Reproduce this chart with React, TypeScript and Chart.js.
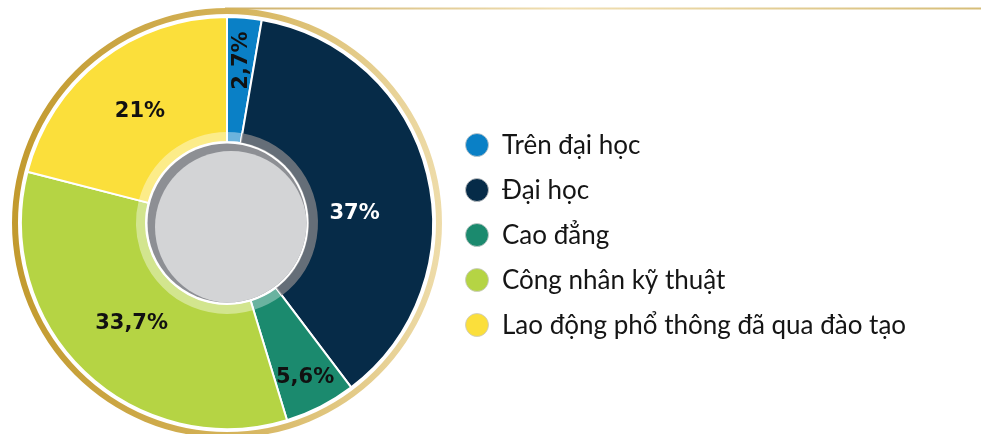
import React, { useEffect, useRef } from "react";
import { Chart, registerables } from "chart.js";

Chart.register(...registerables);

const categories = [
  "Trên đại học",
  "Đại học",
  "Cao đẳng",
  "Công nhân kỹ thuật",
  "Lao động phổ thông đã qua đào tạo",
];
const values = [2.7, 37, 5.6, 33.7, 21];
const valueLabels = ["2,7%", "37%", "5,6%", "33,7%", "21%"];
const colors = ["#0a80c6", "#062b48", "#1b8a6e", "#b5d444", "#fbdf3b"];
const labelColors = ["#111111", "#ffffff", "#111111", "#111111", "#111111"];
const labelRadius = [163, 128, 172, 138, 142];
const labelAngleShift = [0, 9, 0, 0, 0];
const labelRotation = [-90, 0, 0, 0, 0];
const ringOverlay = [
  "rgba(255,255,255,0.4)",
  "rgba(125,127,133,0.8)",
  "rgba(255,255,255,0.35)",
  "rgba(255,255,255,0.4)",
  "rgba(255,255,255,0.4)",
];

const decorPlugin = {
  id: "decor",
  beforeDatasetsDraw(chart: any) {
    const ctx = chart.ctx;
    const meta = chart.getDatasetMeta(0);
    const a0 = meta.data[0];
    if (!a0) return;
    const cx = a0.x, cy = a0.y;
    ctx.save();
    // top gold line
    const lg = ctx.createLinearGradient(225, 0, 981, 0);
    lg.addColorStop(0, "#cdb06a");
    lg.addColorStop(0.45, "#f0dfb3");
    lg.addColorStop(1, "#d6bd78");
    ctx.fillStyle = lg;
    ctx.fillRect(225, 7.5, 756, 2);
    // gold ring
    const rg = ctx.createLinearGradient(cx - 215, cy, cx + 215, cy);
    rg.addColorStop(0, "#c29a2e");
    rg.addColorStop(0.5, "#d4b258");
    rg.addColorStop(1, "#eedcaa");
    ctx.beginPath();
    ctx.arc(cx, cy, 215, 0, Math.PI * 2);
    ctx.arc(cx, cy, 209, 0, Math.PI * 2, true);
    ctx.fillStyle = rg;
    ctx.fill("evenodd");
    ctx.restore();
  },
  afterDatasetsDraw(chart: any) {
    const ctx = chart.ctx;
    const meta = chart.getDatasetMeta(0);
    const arcs = meta.data;
    if (!arcs.length) return;
    const cx = arcs[0].x, cy = arcs[0].y;
    ctx.save();
    // translucent inner ring
    arcs.forEach((el: any, i: number) => {
      ctx.beginPath();
      ctx.arc(cx, cy, 91, el.startAngle, el.endAngle);
      ctx.arc(cx, cy, 80, el.endAngle, el.startAngle, true);
      ctx.closePath();
      ctx.fillStyle = ringOverlay[i];
      ctx.fill();
    });
    // white circle
    ctx.beginPath();
    ctx.arc(cx, cy, 81.5, 0, Math.PI * 2);
    ctx.fillStyle = "#ffffff";
    ctx.fill();
    // gray center
    ctx.beginPath();
    ctx.arc(cx, cy, 79.5, 0, Math.PI * 2);
    ctx.fillStyle = "#8d8f94";
    ctx.fill();
    ctx.save();
    ctx.clip();
    ctx.beginPath();
    ctx.arc(cx + 4, cy + 4, 76, 0, Math.PI * 2);
    ctx.fillStyle = "#d3d4d6";
    ctx.fill();
    ctx.restore();
    // value labels
    ctx.font = "bold 21px 'DejaVu Sans'";
    ctx.textAlign = "center";
    ctx.textBaseline = "middle";
    arcs.forEach((el: any, i: number) => {
      const mid = (el.startAngle + el.endAngle) / 2 + (labelAngleShift[i] * Math.PI) / 180;
      const px = cx + Math.cos(mid) * labelRadius[i];
      const py = cy + Math.sin(mid) * labelRadius[i];
      ctx.save();
      ctx.translate(px, py);
      ctx.rotate((labelRotation[i] * Math.PI) / 180);
      ctx.fillStyle = labelColors[i];
      ctx.fillText(valueLabels[i], 0, 1);
      ctx.restore();
    });
    // legend
    ctx.font = "26px Lato";
    ctx.textAlign = "left";
    ctx.textBaseline = "middle";
    categories.forEach((c, i) => {
      const y = 145 + i * 45;
      ctx.beginPath();
      ctx.arc(477, y, 11.5, 0, Math.PI * 2);
      ctx.fillStyle = colors[i];
      ctx.fill();
      ctx.lineWidth = 1;
      ctx.strokeStyle = "rgba(200,200,200,0.8)";
      ctx.stroke();
      ctx.fillStyle = "#151515";
      ctx.fillText(c, 502, y + 1);
    });
    ctx.restore();
  },
};

export default function App() {
  const ref = useRef<HTMLCanvasElement | null>(null);
  useEffect(() => {
    if (!ref.current) return;
    const chart = new Chart(ref.current, {
      type: "doughnut",
      data: {
        labels: categories,
        datasets: [
          {
            data: values,
            backgroundColor: colors,
            borderColor: "#ffffff",
            borderWidth: 2,
          },
        ],
      },
      options: {
        responsive: false,
        animation: false,
        cutout: 81,
        layout: { padding: { left: 20, top: 16, right: 547, bottom: 4 } },
        plugins: { legend: { display: false }, tooltip: { enabled: false } },
      },
      plugins: [decorPlugin],
    } as any);
    return () => chart.destroy();
  }, []);
  return (
    <div style={{ position: "absolute", left: 0, top: 0, width: 981, height: 434, background: "#fff" }}>
      <canvas ref={ref} width={981} height={434} style={{ width: 981, height: 434, display: "block" }} />
    </div>
  );
}
